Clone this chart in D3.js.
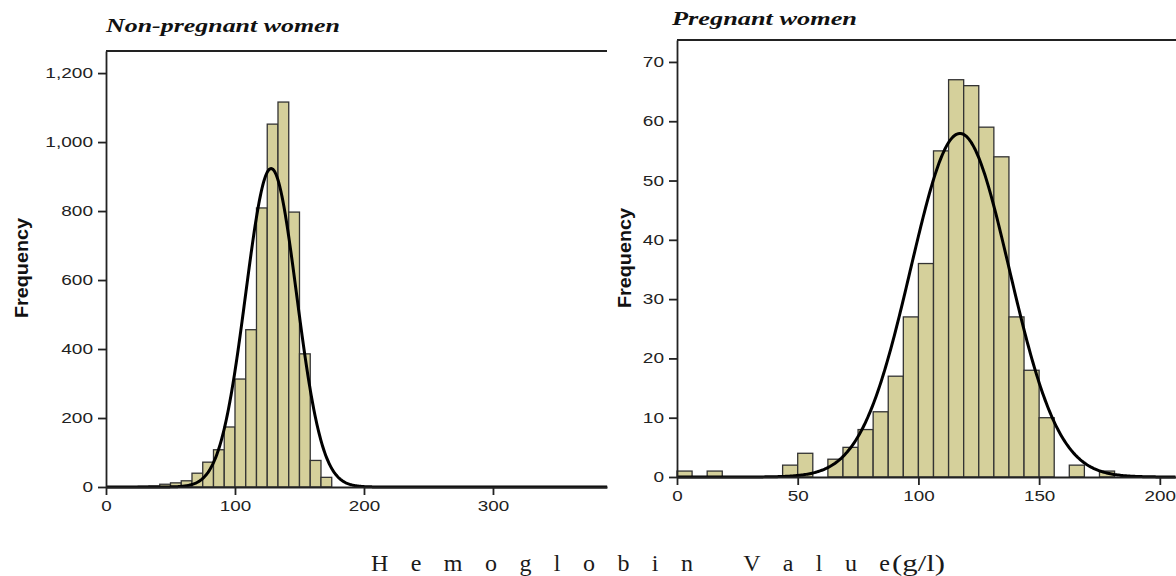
<!DOCTYPE html>
<html lang="en">
<head>
<meta charset="UTF-8">
<title>Hemoglobin histograms</title>
<script src="https://cdn.jsdelivr.net/npm/d3@7"></script>
<style>
  body { margin: 0; background: #fff; }
  .axis text { font: 14px "Liberation Sans", Arial, sans-serif; fill: #222; }
  .axis path, .axis line { stroke: #222; stroke-width: 1.8; }
  .bar { fill: #d5d09b; stroke: #333; stroke-width: 1.3; }
  .curve { fill: none; stroke: #000; stroke-width: 3; }
</style>
</head>
<body>
<script>
// Non-pregnant women: histogram bins (g/l) and counts
const npFirstEdge = 25;
const npBinWidth = 25 / 3;
const npCounts = [2, 3, 8, 12, 18, 40, 72, 108, 174, 313, 456, 809, 1052, 1116, 797, 386, 77, 28];
const npMean = 128, npSD = 19.7;
const npXTicks = [0, 100, 200, 300];
const npYTicks = [0, 200, 400, 600, 800, 1000, 1200];

// Pregnant women
const pgFirstEdge = 0;
const pgBinWidth = 6.25;
const pgCounts = [1, 0, 1, 0, 0, 0, 0, 2, 4, 0, 3, 5, 8, 11, 17, 27, 36, 55, 67, 66, 59, 54, 27, 18, 10, 0, 2, 0, 1];
const pgMean = 117.2, pgSD = 20.4;
const pgXTicks = [0, 50, 100, 150, 200];
const pgYTicks = [0, 10, 20, 30, 40, 50, 60, 70];

const W = 1176, H = 576;
const stretch = 1.36; // the source picture is widened horizontally

const svg = d3.select("body").append("svg")
    .attr("width", W)
    .attr("height", H);

function panel(opt) {
    const x = d3.scaleLinear().domain([0, opt.xMax]).range([opt.left, opt.right]);
    const y = d3.scaleLinear().domain([0, opt.yMax]).range([opt.bottom, opt.top]);
    const g = svg.append("g");

    const bins = opt.counts.map((c, i) => ({
        x0: opt.firstEdge + i * opt.binWidth,
        x1: opt.firstEdge + (i + 1) * opt.binWidth,
        n: c
    })).filter(d => d.n > 0);

    g.selectAll(".bar")
        .data(bins)
        .enter().append("rect")
        .attr("class", "bar")
        .attr("x", d => x(d.x0))
        .attr("width", d => x(d.x1) - x(d.x0))
        .attr("y", d => y(d.n))
        .attr("height", d => y(0) - y(d.n));

    // fitted normal curve
    const total = d3.sum(opt.counts);
    const k = total * opt.binWidth / (opt.sd * Math.sqrt(2 * Math.PI));
    const pts = d3.range(0, opt.xMax + 0.25, 0.5).map(v =>
        [v, k * Math.exp(-((v - opt.mean) ** 2) / (2 * opt.sd * opt.sd))]);
    g.append("path")
        .attr("class", "curve")
        .attr("d", d3.line().x(d => x(d[0])).y(d => y(d[1]))(pts));

    // axes
    const xa = g.append("g")
        .attr("class", "axis")
        .attr("transform", `translate(0,${opt.bottom})`)
        .call(d3.axisBottom(x).tickValues(opt.xTicks).tickSize(8).tickSizeOuter(0).tickPadding(6));
    xa.selectAll("text")
        .style("font-size", "14.5px")
        .attr("transform", "scale(1.3,1)");

    const ya = g.append("g")
        .attr("class", "axis")
        .attr("transform", `translate(${opt.left},0)`)
        .call(d3.axisLeft(y).tickValues(opt.yTicks).tickFormat(d3.format(",")).tickSize(8).tickSizeOuter(0));
    ya.selectAll("text")
        .attr("x", -13 / stretch)
        .attr("transform", `scale(${stretch},1)`);

    // top frame line
    g.append("line")
        .attr("x1", opt.left).attr("x2", opt.right)
        .attr("y1", opt.top).attr("y2", opt.top)
        .attr("stroke", "#222").attr("stroke-width", 1.8);

    // panel title
    g.append("text")
        .attr("x", opt.left + opt.titleDx)
        .attr("y", opt.titleY)
        .attr("textLength", opt.titleLen)
        .attr("lengthAdjust", "spacingAndGlyphs")
        .style("font", "bold italic 18px 'Liberation Serif', 'Times New Roman', serif")
        .style("fill", "#111")
        .text(opt.title);

    // y label
    g.append("text")
        .attr("transform", `translate(${opt.yLabelX},${opt.yLabelY}) rotate(-90)`)
        .attr("text-anchor", "middle")
        .attr("textLength", 100)
        .attr("lengthAdjust", "spacingAndGlyphs")
        .style("font", "bold 19px 'Liberation Sans', Arial, sans-serif")
        .style("fill", "#111")
        .text("Frequency");
}

panel({
    counts: npCounts, firstEdge: npFirstEdge, binWidth: npBinWidth,
    mean: npMean, sd: npSD, xTicks: npXTicks, yTicks: npYTicks,
    xMax: 388.4, yMax: 1264,
    left: 106, right: 607, top: 51, bottom: 487,
    title: "Non-pregnant women", titleDx: 0, titleY: 32, titleLen: 234,
    yLabelX: 28, yLabelY: 268
});

panel({
    counts: pgCounts, firstEdge: pgFirstEdge, binWidth: pgBinWidth,
    mean: pgMean, sd: pgSD, xTicks: pgXTicks, yTicks: pgYTicks,
    xMax: 206.7, yMax: 73.7,
    left: 677, right: 1176, top: 40, bottom: 477,
    title: "Pregnant women", titleDx: -5, titleY: 25, titleLen: 185,
    yLabelX: 631, yLabelY: 258
});

// shared x-axis title
const xt = svg.append("text")
    .attr("y", 571)
    .attr("xml:space", "preserve")
    .style("white-space", "pre")
    .style("font", "24px 'Liberation Serif', 'Times New Roman', serif")
    .style("fill", "#1a1a1a");
xt.append("tspan")
    .attr("x", 371)
    .attr("textLength", 519)
    .attr("lengthAdjust", "spacing")
    .text("H e m o g l o b i n   V a l u e");
xt.append("tspan")
    .attr("x", 892)
    .attr("textLength", 53)
    .attr("lengthAdjust", "spacingAndGlyphs")
    .text("(g/l)");
</script>
</body>
</html>
